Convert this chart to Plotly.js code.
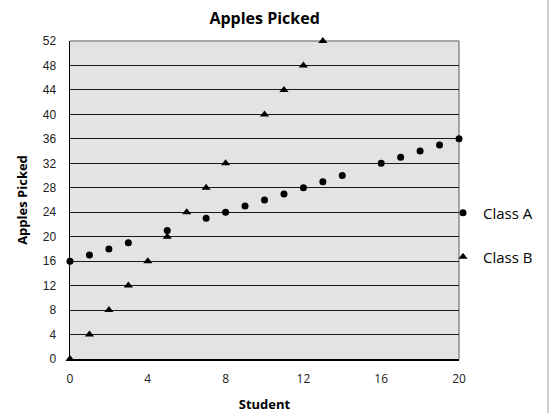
<!DOCTYPE html>
<html><head><meta charset="utf-8">
<script src="https://cdn.plot.ly/plotly-3.0.1.min.js"></script>
<style>html,body{margin:0;padding:0;background:#fff}#chart{width:553px;height:413px}</style>
</head><body><div id="chart"></div>
<script>
const students = [0,1,2,3,5,7,8,9,10,11,12,13,14,16,17,18,19,20];
const classA = [16,17,18,19,21,23,24,25,26,27,28,29,30,32,33,34,35,36];
const studentsB = [0,1,2,3,4,5,6,7,8,10,11,12,13];
const classB = [0,4,8,12,16,20,24,28,32,40,44,48,52];
const xTicks = [0,4,8,12,16,20];
const yTicks = [0,4,8,12,16,20,24,28,32,36,40,44,48,52];

const F = '"Comic Sans MS", "Open Sans", "DejaVu Sans", sans-serif';
const traces = [
  {x: students, y: classA, name: 'Class A', type: 'scatter', mode: 'markers', cliponaxis: false, showlegend: true,
   marker: {symbol: 'circle', size: 7, color: '#000'}, legend: 'legend'},
  {x: studentsB, y: classB, name: 'Class B', type: 'scatter', mode: 'markers', cliponaxis: false, showlegend: true,
   marker: {symbol: 'triangle-up', size: 8, color: '#000'}, legend: 'legend2'}
];
const legendStyle = {font: {family: F, size: 15, color: '#000'}, bgcolor: 'rgba(0,0,0,0)', itemwidth: 30,
  xanchor: 'left', yanchor: 'middle', borderwidth: 0, visible: true};
const legX = (443 - 70) / 389;
const layout = {
  width: 553, height: 413,
  showlegend: true,
  margin: {l: 70, r: 94, t: 41, b: 54, autoexpand: false},
  paper_bgcolor: '#fff', plot_bgcolor: '#e3e3e3',
  title: {text: '<b>Apples Picked</b>', font: {family: F, size: 16, color: '#000'}, x: 0.4785, xanchor: 'center', y: 0.955, yanchor: 'middle'},
  xaxis: {range: [0, 20], tickvals: xTicks, ticktext: xTicks.map(String), showgrid: false, zeroline: false,
    showline: true, linecolor: '#000', linewidth: 1.5, ticks: '', ticklabelstandoff: 8,
    tickfont: {family: F, size: 12, color: '#222'},
    title: {text: '<b>Student</b>', font: {family: F, size: 13, color: '#000'}, standoff: 15}},
  yaxis: {range: [0, 52], tickvals: yTicks, ticktext: yTicks.map(String), showgrid: true, gridcolor: '#1a1a1a', gridwidth: 1,
    zeroline: false, showline: true, linecolor: '#000', linewidth: 1.5, ticks: '', ticklabelstandoff: 10,
    tickfont: {family: 'Liberation Sans, Arial, sans-serif', size: 12, color: '#222'},
    title: {text: '<b>Apples Picked</b>', font: {family: F, size: 13, color: '#000'}, standoff: 12}},
  legend: Object.assign({x: legX, y: (213 - 359) / -318}, legendStyle),
  legend2: Object.assign({x: legX, y: (257 - 359) / -318}, legendStyle),
  shapes: [
    {type: 'line', xref: 'paper', yref: 'paper', x0: 0, x1: 1, y0: 1, y1: 1, line: {color: '#8c8c8c', width: 1.5}, layer: 'below'},
    {type: 'line', xref: 'paper', yref: 'paper', x0: 1, x1: 1, y0: 0, y1: 1, line: {color: '#8c8c8c', width: 1.5}, layer: 'below'},
    {type: 'line', xref: 'paper', yref: 'paper', x0: (548 - 70) / 389, x1: (548 - 70) / 389, y0: -54 / 318, y1: 359 / 318, line: {color: '#bbb', width: 1.5}}
  ]
};
Plotly.newPlot('chart', traces, layout, {displayModeBar: false, staticPlot: true});
</script></body></html>
